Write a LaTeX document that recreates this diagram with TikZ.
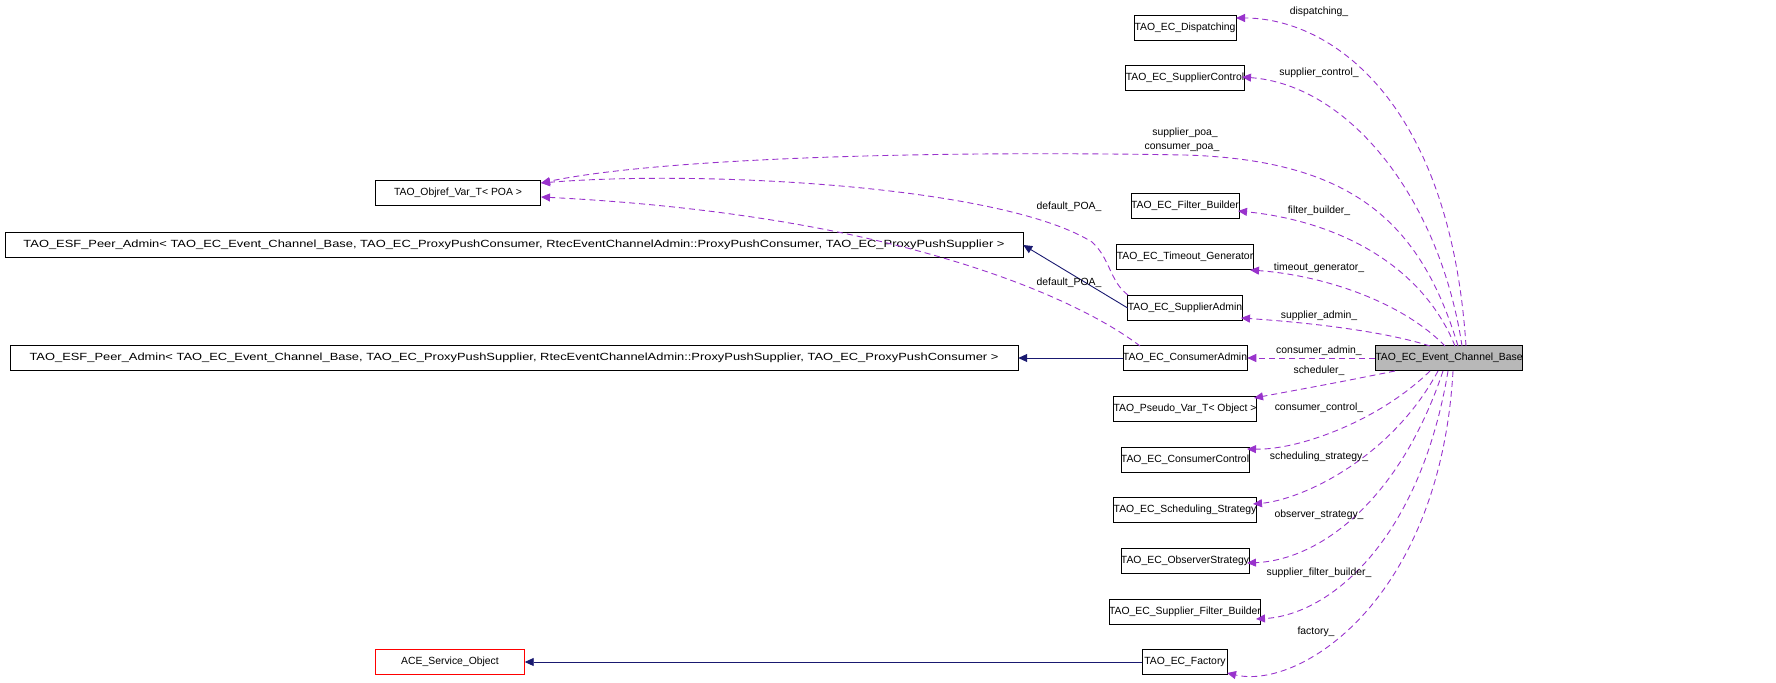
\documentclass[tikz,border=0pt]{standalone}
\usepackage{fontspec}
\setmainfont{Liberation Sans}
\usetikzlibrary{arrows.meta}
\definecolor{epurple}{RGB}{153,51,204}
\definecolor{enavy}{RGB}{25,25,112}
\begin{document}
\begin{tikzpicture}[x=1pt,y=-1pt,scale=0.5,transform shape,font=\fontsize{10.4}{12}\selectfont,
  box/.style={draw=black,line width=0.45pt,inner sep=0pt,minimum height=25pt,anchor=center},
  use/.style={draw=epurple,dashed,dash pattern=on 3pt off 2pt,line width=0.45pt,-{Triangle[length=4.5pt,width=4pt]}},
  inh/.style={draw=enavy,line width=0.45pt,-{Triangle[length=4.5pt,width=4pt]}},
  lab/.style={inner sep=0pt}]
\useasboundingbox (0,0) rectangle (1776,683);
\node[box,minimum width=102pt] (disp) at (1185,28) {TAO\_EC\_Dispatching};
\node[box,minimum width=115pt] (sc) at (1185,78) {TAO\_EC\_SupplierControl};
\node[box,minimum width=107pt] (fb) at (1185,206) {TAO\_EC\_Filter\_Builder};
\node[box,minimum width=130pt] (tg) at (1185,257) {TAO\_EC\_Timeout\_Generator};
\node[box,minimum width=112pt] (sa) at (1185,308) {TAO\_EC\_SupplierAdmin};
\node[box,minimum width=120pt] (ca) at (1185,358) {TAO\_EC\_ConsumerAdmin};
\node[box,minimum width=140pt,fill=black!28] (ecb) at (1449,358) {TAO\_EC\_Event\_Channel\_Base};
\node[box,minimum width=138pt] (pv) at (1185,409) {TAO\_Pseudo\_Var\_T< Object >};
\node[box,minimum width=124pt] (cc) at (1185,460) {TAO\_EC\_ConsumerControl};
\node[box,minimum width=136pt] (ss) at (1185,510) {TAO\_EC\_Scheduling\_Strategy};
\node[box,minimum width=124pt] (os) at (1185,561) {TAO\_EC\_ObserverStrategy};
\node[box,minimum width=143pt] (sfb) at (1185,612) {TAO\_EC\_Supplier\_Filter\_Builder};
\node[box,minimum width=85pt] (fac) at (1185,662) {TAO\_EC\_Factory};
\node[box,minimum width=165pt] (obj) at (458,193) {TAO\_Objref\_Var\_T< POA >};
\node[box,minimum width=1018pt] (esf1) at (514,245) {\scalebox{1.24}[1]{TAO\_ESF\_Peer\_Admin< TAO\_EC\_Event\_Channel\_Base, TAO\_EC\_ProxyPushConsumer, RtecEventChannelAdmin::ProxyPushConsumer, TAO\_EC\_ProxyPushSupplier >}};
\node[box,minimum width=1008pt] (esf2) at (514,358) {\scalebox{1.24}[1]{TAO\_ESF\_Peer\_Admin< TAO\_EC\_Event\_Channel\_Base, TAO\_EC\_ProxyPushSupplier, RtecEventChannelAdmin::ProxyPushSupplier, TAO\_EC\_ProxyPushConsumer >}};
\node[box,draw=red,minimum width=149pt] (ace) at (450,662) {ACE\_Service\_Object};
\coordinate (pk) at (1185,155);
\coordinate (mid) at (1092,242);
% inheritance
\draw[inh] (sa.west) -- (esf1.east);
\draw[inh] (ca.west) -- (esf2.east);
\draw[inh] (fac.west) -- (ace.east);
% usage
\draw[use] (1466,346) .. controls (1450,100) and (1330,18) .. (1236,18);
\draw[use] (1462,346) .. controls (1440,200) and (1350,85) .. (1242,77);
\draw[use] (1458,346) .. controls (1420,220) and (1350,160) .. (pk) .. controls (900,150) and (650,160) .. (541,183);
\draw[use] (1128,295) .. controls (1110,282) and (1110,258) .. (mid) .. controls (1000,185) and (700,170) .. (541,183);
\draw[use] (1140,346) .. controls (1080,300) and (900,215) .. (541,197);
\draw[use] (1455,346) .. controls (1420,260) and (1330,220) .. (1238,211);
\draw[use] (1445,346) .. controls (1400,300) and (1320,275) .. (1250,270);
\draw[use] (1430,346) .. controls (1380,330) and (1300,322) .. (1241,318);
\draw[use] (ecb.west) -- (ca.east);
\draw[use] (1395,371) .. controls (1340,382) .. (1254,398);
\draw[use] (1430,371) .. controls (1380,420) and (1300,450) .. (1247,449);
\draw[use] (1438,371) .. controls (1390,460) and (1300,500) .. (1253,504);
\draw[use] (1443,371) .. controls (1400,500) and (1320,560) .. (1247,563);
\draw[use] (1448,371) .. controls (1420,540) and (1330,615) .. (1256,619);
\draw[use] (1453,371) .. controls (1440,600) and (1300,690) .. (1227,673);
% labels
\node[lab] (l1) at (1319,12) {dispatching\_};
\node[lab] (l2) at (1319,73) {supplier\_control\_};
\node[lab] (l3) at (1185,133) {supplier\_poa\_};
\node[lab] (l4) at (1182,148) {consumer\_poa\_};
\node[lab] (l5) at (1069,207) {default\_POA\_};
\node[lab] (l6) at (1069,283) {default\_POA\_};
\node[lab] (l7) at (1319,211) {filter\_builder\_};
\node[lab] (l8) at (1319,268) {timeout\_generator\_};
\node[lab] (l9) at (1319,316) {supplier\_admin\_};
\node[lab] (l10) at (1319,351) {consumer\_admin\_};
\node[lab] (l11) at (1319,371) {scheduler\_};
\node[lab] (l12) at (1319,408) {consumer\_control\_};
\node[lab] (l13) at (1319,457) {scheduling\_strategy\_};
\node[lab] (l14) at (1319,515) {observer\_strategy\_};
\node[lab] (l15) at (1319,573) {supplier\_filter\_builder\_};
\node[lab] (l16) at (1316,632) {factory\_};
\end{tikzpicture}
\end{document}
